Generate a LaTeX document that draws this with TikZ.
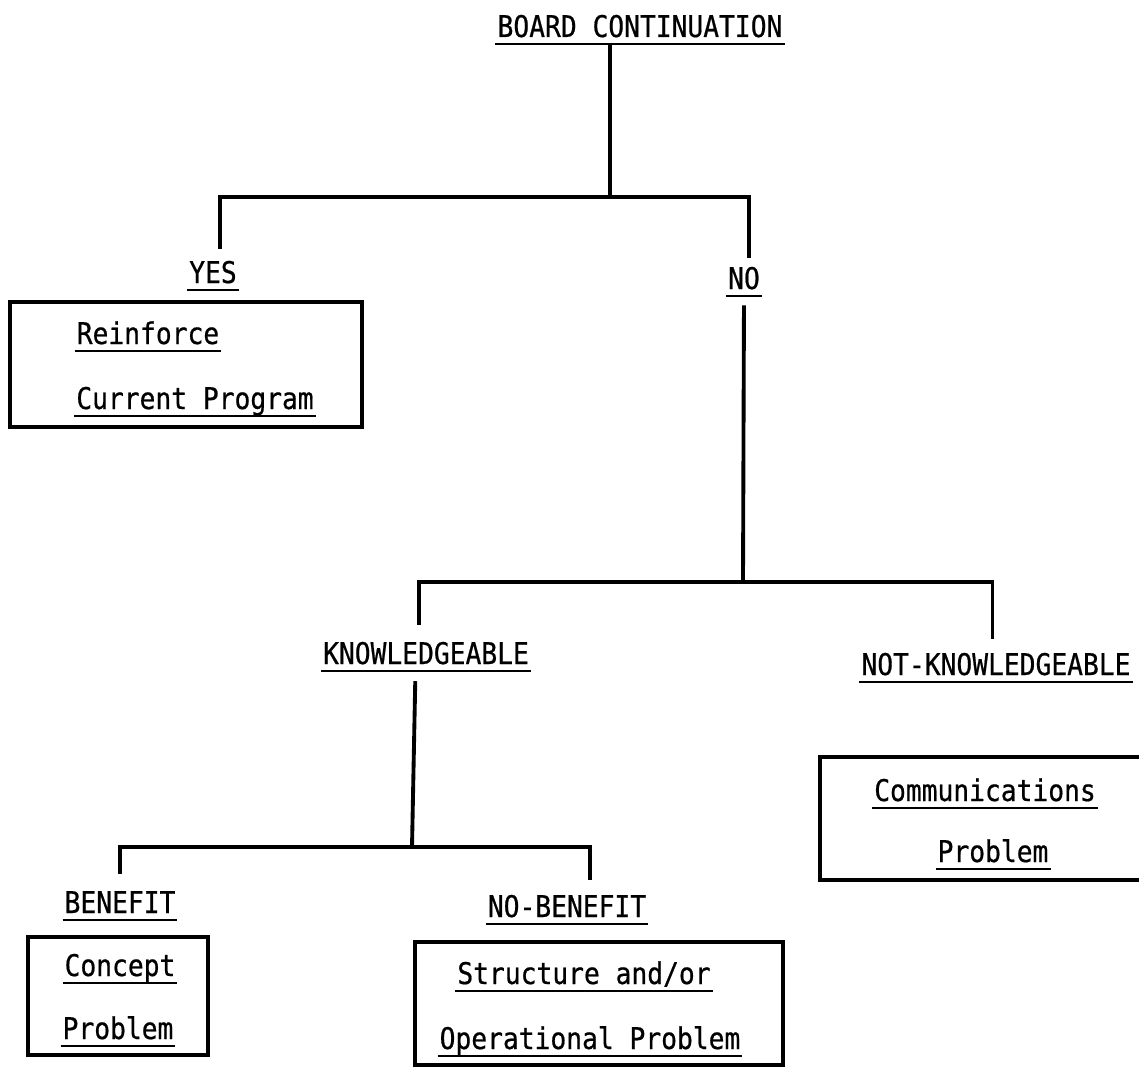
\documentclass[tikz,border=0pt]{standalone}
\usepackage{fontspec}
\usepackage{tikz}
\newfontfamily\typer[FakeStretch=0.88,FakeBold=0.6]{DejaVu Sans Mono}
\newcommand{\ulab}[1]{\draw[rule] (#1.south west) -- (#1.south east);}

\begin{document}
\begin{tikzpicture}[x=0.02cm,y=-0.02cm,
  lab/.style={anchor=base,font=\typer\fontsize{17}{20}\selectfont,inner xsep=1pt,inner ysep=3.6pt,text depth=0pt},
  tree/.style={line width=2.2pt},
  frame/.style={line width=1.8pt},
  rule/.style={line width=1.3pt}]
  \useasboundingbox (0,0) rectangle (1139,1068);

  \node[lab] (board) at (640,37) {BOARD CONTINUATION};
  \node[lab] (yes) at (213,283) {YES};
  \node[lab] (no) at (744,289) {NO};
  \node[lab] (know) at (426,664) {KNOWLEDGEABLE};
  \node[lab] (notknow) at (996,675) {NOT-KNOWLEDGEABLE};
  \node[lab] (ben) at (120,913) {BENEFIT};
  \node[lab] (nob) at (567,917) {NO-BENEFIT};
  \foreach \n in {board,yes,no,know,notknow,ben,nob} {\ulab{\n}}

  \draw[frame] (10,302) rectangle (362,427);
  \node[lab] (reinf) at (148,344) {Reinforce};
  \node[lab] (curprog) at (195,409) {Current Program};
  \draw[frame] (820,757) rectangle (1160,880);
  \node[lab] (comm) at (985,801) {Communications};
  \node[lab] (commprob) at (993,862) {Problem};
  \draw[frame] (28,937) rectangle (208,1055);
  \node[lab] (concept) at (120,976) {Concept};
  \node[lab] (conprob) at (118,1039) {Problem};
  \draw[frame] (415,942) rectangle (783,1065);
  \node[lab] (struct) at (584,984) {Structure and/or};
  \node[lab] (oper) at (590,1049) {Operational Problem};
  \foreach \n in {reinf,curprog,comm,commprob,concept,conprob,struct,oper} {\ulab{\n}}

  \coordinate (j0) at (610,197);
  \coordinate (j1) at (743,582);
  \coordinate (j2) at (412,847);
  \draw[tree] (j0 |- board.south) -- (j0);
  \draw[tree,shorten >=3pt] (j0) -| ([xshift=4pt]yes.north);
  \draw[tree,shorten >=1pt] (j0) -| ([xshift=3pt]no.north);
  \draw[tree,shorten <=5.5pt] (no.south) -- (j1);
  \draw[tree,shorten >=6pt] (j1) -| ([xshift=-4pt]know.north);
  \draw[tree,shorten >=4pt] (j1) -| ([xshift=-2pt]notknow.north);
  \draw[tree,shorten <=6pt] ([xshift=-6pt]know.south) -- (j2);
  \draw[tree,shorten >=6pt] (j2) -| (ben.north);
  \draw[tree,shorten >=4.5pt] (j2) -| ([xshift=13pt]nob.north);
\end{tikzpicture}
\end{document}
